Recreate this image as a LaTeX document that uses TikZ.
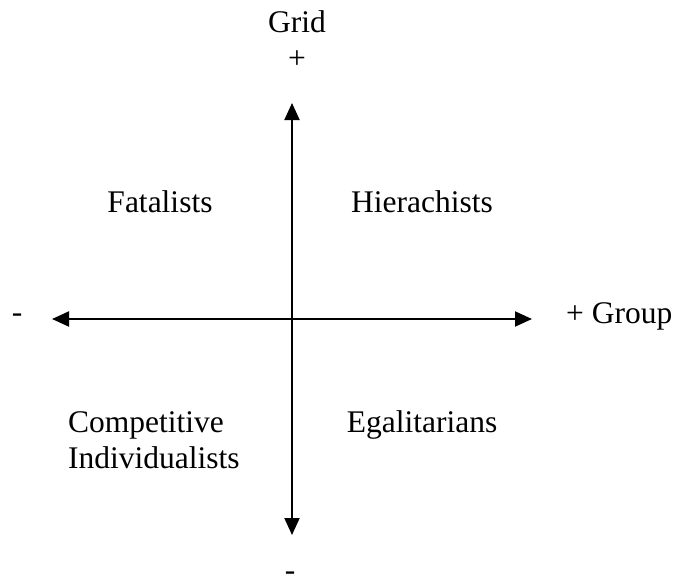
\documentclass[tikz,border=0pt]{standalone}
\usepackage{fontspec}
\setmainfont{Liberation Serif}
\usetikzlibrary{arrows.meta}
\begin{document}
\begin{tikzpicture}[x=1pt,y=-1pt,
  axis/.style={line width=2pt,{Triangle[length=17pt,width=15pt]}-{Triangle[length=17pt,width=15pt]}},
  lbl/.style={inner sep=0pt,font=\fontsize{31.5}{36}\selectfont}]
\useasboundingbox (0,0) rectangle (674,578);
% axes
\coordinate (top) at (292,103);
\coordinate (bottom) at (292,535);
\coordinate (left) at (52,319);
\coordinate (right) at (532,319);
\draw[axis] (bottom) -- (top);
\draw[axis] (left) -- (right);
% axis labels
\node[lbl,anchor=base] (grid) at (297,33) {Grid};
\node[lbl,anchor=base] (gridplus) at (297,69) {+};
\node[lbl,anchor=base] (groupminus) at (17,322) {-};
\node[lbl,anchor=base west] (group) at (566,323) {+ Group};
\node[lbl,anchor=base] (gridminus) at (290,580) {-};
% quadrants
\node[lbl,anchor=base] (fat) at (160,212) {Fatalists};
\node[lbl,anchor=base] (hier) at (422,212) {Hierachists};
% two-line label: base anchor sits on the last line
\node[lbl,anchor=base west,align=left] (comp) at (68,468) {Competitive\\Individualists};
\node[lbl,anchor=base] (egal) at (422,432) {Egalitarians};
\end{tikzpicture}
\end{document}
